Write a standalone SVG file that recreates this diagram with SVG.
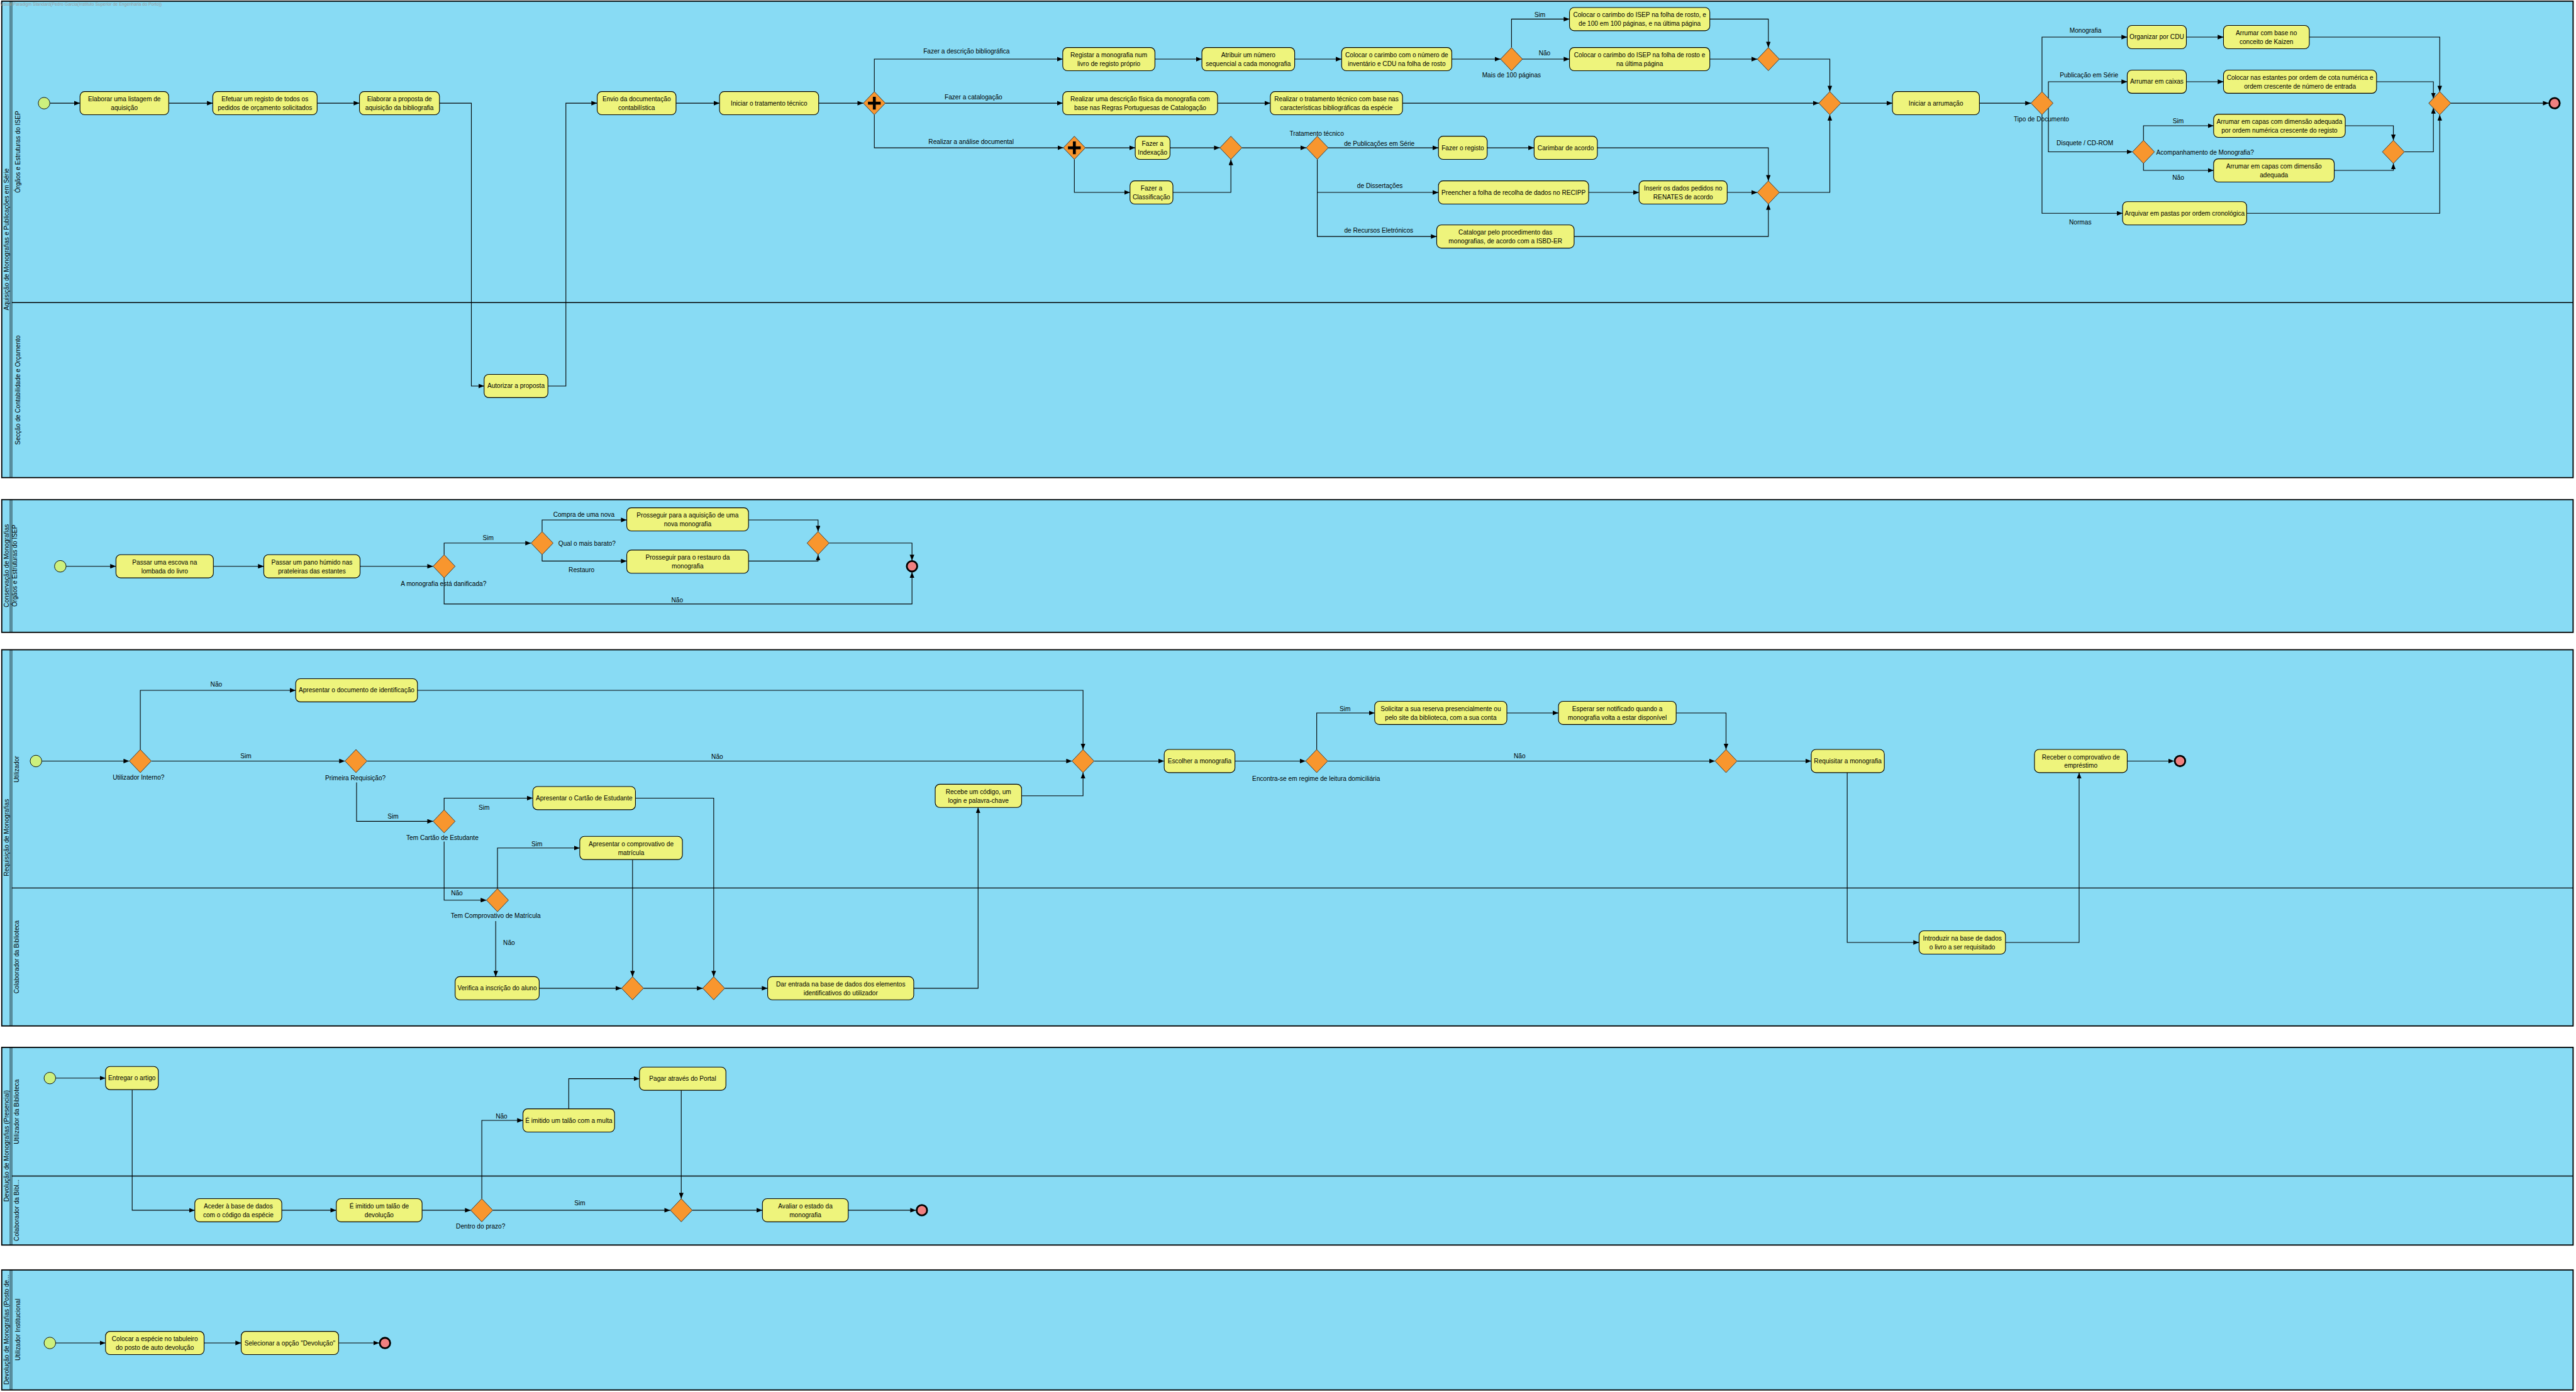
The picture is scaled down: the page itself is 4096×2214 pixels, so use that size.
<svg xmlns="http://www.w3.org/2000/svg" width="4096" height="2214" viewBox="0 0 4096 2214">
<style>
.pool{fill:#88DBF4;stroke:#000;stroke-width:2}
.hl{stroke:#000;stroke-width:1;fill:none}
.ld{stroke:#000;stroke-width:1.5;fill:none}
.task{fill:#EEF47C;stroke:#000;stroke-width:1.2}
.gw{fill:#F8962E;stroke:#333;stroke-width:1}
.plus{fill:#000}
.st{fill:#CDF07E;stroke:#000;stroke-width:1}
.en{fill:#F08080;stroke:#000;stroke-width:3}
.t{font-family:"Liberation Sans",Arial,sans-serif;font-size:11px;fill:#000;text-anchor:middle;dominant-baseline:central}
.ts{font-family:"Liberation Sans",Arial,sans-serif;font-size:11px;fill:#000;text-anchor:start;dominant-baseline:central}
.pl{font-family:"Liberation Sans",Arial,sans-serif;font-size:11px;fill:#000;text-anchor:middle;dominant-baseline:central}
.wm{font-family:"Liberation Sans",Arial,sans-serif;font-size:7.5px;fill:#9a9a9a}
.f{fill:none;stroke:#000;stroke-width:1.2;marker-end:url(#arr)}
</style>
<defs>
<marker id="arr" viewBox="0 0 10 8" refX="10" refY="4" markerWidth="10" markerHeight="8" markerUnits="userSpaceOnUse" orient="auto"><path d="M0,0 L10,4 L0,8 z" fill="#000"/></marker>
</defs>
<rect x="0" y="0" width="4096" height="2214" fill="#fff"/>
<g transform="scale(0.9219)">
<!-- pools -->
<g id="pools">
<g id="pool1">
<rect class="pool" x="3" y="2" width="4435" height="822"/>
<path class="hl" d="M17.5,2 V824 M20.5,2 V824"/>
<path class="ld" d="M20.5,522 H4438"/>
<text class="pl" transform="translate(11,413) rotate(-90)">Aquisição de Monografias e Publicações em Série</text>
<text class="pl" transform="translate(31,262) rotate(-90)">Órgãos e Estruturas do ISEP</text>
<text class="pl" transform="translate(31,673) rotate(-90)">Secção de Contabilidade e Orçamento</text>
</g>
<g id="pool2">
<rect class="pool" x="3" y="862" width="4435" height="229"/>
<path class="hl" d="M17.5,862 V1091 M20.5,862 V1091"/>
<text class="pl" transform="translate(11,976) rotate(-90)">Conservação de Monografias</text>
<text class="pl" transform="translate(25,976) rotate(-90)">Órgãos e Estruturas do ISEP</text>
</g>
<g id="pool3">
<rect class="pool" x="3" y="1121" width="4435" height="649"/>
<path class="hl" d="M17.5,1121 V1770 M20.5,1121 V1770"/>
<path class="ld" d="M20.5,1532 H4438"/>
<text class="pl" transform="translate(11,1445) rotate(-90)">Requisição de Monografias</text>
<text class="pl" transform="translate(29,1327) rotate(-90)">Utilizador</text>
<text class="pl" transform="translate(29,1651) rotate(-90)">Colaborador da Biblioteca</text>
</g>
<g id="pool4">
<rect class="pool" x="3" y="1807" width="4435" height="341"/>
<path class="hl" d="M17.5,1807 V2148 M20.5,1807 V2148"/>
<path class="ld" d="M20.5,2029 H4438"/>
<text class="pl" transform="translate(11,1977) rotate(-90)">Devolução de Monografias (Presencial)</text>
<text class="pl" transform="translate(29,1918) rotate(-90)">Utilizador da Biblioteca</text>
<text class="pl" transform="translate(29,2088) rotate(-90)">Colaborador da Bibl...</text>
</g>
<g id="pool5">
<rect class="pool" x="3" y="2191" width="4435" height="207"/>
<path class="hl" d="M17.5,2191 V2398 M20.5,2191 V2398"/>
<text class="pl" transform="translate(11,2294) rotate(-90)">Devolução de Monografias (Posto de...</text>
<text class="pl" transform="translate(31,2294) rotate(-90)">Utilizador Institucional</text>
</g>
</g>
<text class="wm" x="0" y="10">Visual Paradigm Standard(Pedro Garcia(Instituto Superior de Engenharia do Porto))</text>

<!-- connectors -->
<g id="connectors">
<!-- pool 1 -->
<path class="f" d="M86.5,178 H138"/>
<path class="f" d="M291,178 H367"/>
<path class="f" d="M547,178 H620"/>
<path class="f" d="M758,178 H813 V666 H835"/>
<path class="f" d="M945,666 H976 V178 H1030"/>
<path class="f" d="M1166,178 H1241"/>
<path class="f" d="M1412,178 H1489"/>
<path class="f" d="M1508,158 V102 H1833"/>
<path class="f" d="M1992,102 H2073"/>
<path class="f" d="M2233,102 H2314"/>
<path class="f" d="M2504,102 H2588"/>
<path class="f" d="M2607,82 V33 H2707"/>
<path class="f" d="M2626,102 H2707"/>
<path class="f" d="M2949,33 H3050 V82"/>
<path class="f" d="M2949,102 H3031"/>
<path class="f" d="M3069,102 H3156 V158"/>
<path class="f" d="M1527,178 H1833"/>
<path class="f" d="M2100,178 H2191"/>
<path class="f" d="M2419,178 H3137"/>
<path class="f" d="M1508,198 V255 H1834"/>
<path class="f" d="M1872,255 H1958"/>
<path class="f" d="M1853,275 V332 H1949"/>
<path class="f" d="M2018,255 H2104"/>
<path class="f" d="M2023,332 H2123 V275"/>
<path class="f" d="M2142,255 H2253"/>
<path class="f" d="M2291,255 H2481"/>
<path class="f" d="M2565,255 H2646"/>
<path class="f" d="M2755,255 H3050 V312"/>
<path class="f" d="M2272,275 V332 H2481"/>
<path class="f" d="M2740,332 H2827"/>
<path class="f" d="M2979,332 H3031"/>
<path class="f" d="M2272,332 V408 H2478"/>
<path class="f" d="M2715,408 H3050 V352"/>
<path class="f" d="M3069,332 H3156 V198"/>
<path class="f" d="M3175,178 H3264"/>
<path class="f" d="M3414,178 H3503"/>
<path class="f" d="M3522,158 V64 H3669"/>
<path class="f" d="M3771,64 H3835"/>
<path class="f" d="M3983,64 H4208 V158"/>
<path class="f" d="M3533,169.6 V141 H3669"/>
<path class="f" d="M3771,141 H3835"/>
<path class="f" d="M4099,141 H4197 V170"/>
<path class="f" d="M3533,186.4 V262 H3678"/>
<path class="f" d="M3697,242 V217 H3818"/>
<path class="f" d="M3697,282 V294 H3818"/>
<path class="f" d="M4045,217 H4128 V242"/>
<path class="f" d="M4026,294 H4128 V282"/>
<path class="f" d="M4147,262 H4197 V186"/>
<path class="f" d="M3522,198 V368 H3661"/>
<path class="f" d="M3875,368 H4208 V198"/>
<path class="f" d="M4227,178 H4396"/>
<!-- pool 2 -->
<path class="f" d="M114,977 H200"/>
<path class="f" d="M368,977 H455"/>
<path class="f" d="M621,977 H747"/>
<path class="f" d="M766,957 V937 H916"/>
<path class="f" d="M935,917 V897 H1081"/>
<path class="f" d="M935,957 V968 H1081"/>
<path class="f" d="M1291,897 H1411 V917"/>
<path class="f" d="M1291,968 H1411 V957"/>
<path class="f" d="M1430,937 H1573 V967"/>
<path class="f" d="M766,997 V1042 H1573 V987"/>
<!-- pool 3 -->
<path class="f" d="M72,1313 H223"/>
<path class="f" d="M242,1293 V1191 H510"/>
<path class="f" d="M720,1191 H1868 V1293"/>
<path class="f" d="M261,1313 H595"/>
<path class="f" d="M633,1313 H1849"/>
<path class="f" d="M615,1350 V1417 H747"/>
<path class="f" d="M766,1397 V1377 H919"/>
<path class="f" d="M1096,1377 H1231 V1685"/>
<path class="f" d="M766,1452 V1553 H839"/>
<path class="f" d="M858,1533 V1463 H1000"/>
<path class="f" d="M1091,1483 V1685"/>
<path class="f" d="M855,1589 V1685"/>
<path class="f" d="M930,1705 H1072"/>
<path class="f" d="M1110,1705 H1212"/>
<path class="f" d="M1250,1705 H1324"/>
<path class="f" d="M1576,1705 H1687 V1393"/>
<path class="f" d="M1762,1373 H1868 V1333"/>
<path class="f" d="M1887,1313 H2008"/>
<path class="f" d="M2130,1313 H2252"/>
<path class="f" d="M2271,1293 V1230 H2371"/>
<path class="f" d="M2599,1230 H2688"/>
<path class="f" d="M2891,1230 H2977 V1293"/>
<path class="f" d="M2290,1313 H2958"/>
<path class="f" d="M2996,1313 H3124"/>
<path class="f" d="M3186,1333 V1626 H3310"/>
<path class="f" d="M3459,1626 H3586 V1333"/>
<path class="f" d="M3669,1313 H3750"/>
<!-- pool 4 -->
<path class="f" d="M96,1860 H182"/>
<path class="f" d="M228,1880 V2088 H336"/>
<path class="f" d="M486,2088 H580"/>
<path class="f" d="M728,2088 H812"/>
<path class="f" d="M831,2068 V1933 H902"/>
<path class="f" d="M981,1913 V1861 H1103"/>
<path class="f" d="M1175,1881 V2068"/>
<path class="f" d="M850,2088 H1156"/>
<path class="f" d="M1194,2088 H1315"/>
<path class="f" d="M1463,2088 H1580"/>
<!-- pool 5 -->
<path class="f" d="M96,2317 H182"/>
<path class="f" d="M352,2317 H416"/>
<path class="f" d="M584,2317 H654"/>
</g>

<g id="edge-labels">
<text class="t" x="1667" y="88">Fazer a descrição bibliográfica</text>
<text class="t" x="1679" y="168">Fazer a catalogação</text>
<text class="t" x="1675" y="245">Realizar a análise documental</text>
<text class="t" x="2656" y="26">Sim</text>
<text class="t" x="2664" y="92">Não</text>
<text class="t" x="2379" y="248">de Publicações em Série</text>
<text class="t" x="2380" y="321">de Dissertações</text>
<text class="t" x="2378" y="398">de Recursos Eletrónicos</text>
<text class="t" x="3597" y="53">Monografia</text>
<text class="t" x="3603" y="130">Publicação em Série</text>
<text class="t" x="3596" y="247">Disquete / CD-ROM</text>
<text class="t" x="3757" y="209">Sim</text>
<text class="t" x="3757" y="306">Não</text>
<text class="t" x="3588" y="383">Normas</text>
<text class="t" x="842" y="928">Sim</text>
<text class="t" x="1007" y="888">Compra de uma nova</text>
<text class="t" x="1003" y="983">Restauro</text>
<text class="t" x="1168" y="1035">Não</text>
<text class="t" x="373" y="1181">Não</text>
<text class="t" x="424" y="1304">Sim</text>
<text class="t" x="1237" y="1305">Não</text>
<text class="t" x="678" y="1408">Sim</text>
<text class="t" x="835" y="1393">Sim</text>
<text class="t" x="788" y="1541">Não</text>
<text class="t" x="926" y="1456">Sim</text>
<text class="t" x="878" y="1627">Não</text>
<text class="t" x="2320" y="1223">Sim</text>
<text class="t" x="2621" y="1304">Não</text>
<text class="t" x="865" y="1926">Não</text>
<text class="t" x="1000" y="2076">Sim</text>
</g>

<!-- pool 1 nodes -->
<g id="start1"><circle class="st" cx="76" cy="178" r="10"/></g>
<g id="t_listagem"><rect class="task" x="138" y="158" width="153" height="40" rx="8"/><text class="t" x="214.5" y="170.5"><tspan x="214.5">Elaborar uma listagem de</tspan><tspan x="214.5" dy="15">aquisição</tspan></text></g>
<g id="t_registo_orc"><rect class="task" x="367" y="158" width="180" height="40" rx="8"/><text class="t" x="457" y="170.5"><tspan x="457">Efetuar um registo de todos os</tspan><tspan x="457" dy="15">pedidos de orçamento solicitados</tspan></text></g>
<g id="t_proposta"><rect class="task" x="620" y="158" width="138" height="40" rx="8"/><text class="t" x="689" y="170.5"><tspan x="689">Elaborar a proposta de</tspan><tspan x="689" dy="15">aquisição da bibliografia</tspan></text></g>
<g id="t_autorizar"><rect class="task" x="835" y="646" width="110" height="40" rx="8"/><text class="t" x="890" y="666">Autorizar a proposta</text></g>
<g id="t_envio"><rect class="task" x="1030" y="158" width="136" height="40" rx="8"/><text class="t" x="1098" y="170.5"><tspan x="1098">Envio da documentação</tspan><tspan x="1098" dy="15">contabilística</tspan></text></g>
<g id="t_iniciar_trat"><rect class="task" x="1241" y="158" width="171" height="40" rx="8"/><text class="t" x="1326.5" y="178">Iniciar o tratamento técnico</text></g>
<g id="pg1"><polygon class="gw" points="1489,178 1508,158 1527,178 1508,198"/><rect class="plus" x="1497" y="175.5" width="22" height="5"/><rect class="plus" x="1505.5" y="167" width="5" height="22"/></g>
<g id="t_registar_livro"><rect class="task" x="1833" y="82" width="159" height="40" rx="8"/><text class="t" x="1912.5" y="94.5"><tspan x="1912.5">Registar a monografia num</tspan><tspan x="1912.5" dy="15">livro de registo próprio</tspan></text></g>
<g id="t_atribuir"><rect class="task" x="2073" y="82" width="160" height="40" rx="8"/><text class="t" x="2153" y="94.5"><tspan x="2153">Atribuir um número</tspan><tspan x="2153" dy="15">sequencial a cada monografia</tspan></text></g>
<g id="t_carimbo_inv"><rect class="task" x="2314" y="82" width="190" height="40" rx="8"/><text class="t" x="2409" y="94.5"><tspan x="2409">Colocar o carimbo com o número de</tspan><tspan x="2409" dy="15">inventário e CDU na folha de rosto</tspan></text></g>
<g id="g_100"><polygon class="gw" points="2588,102 2607,82 2626,102 2607,122"/><text class="t" x="2607" y="130">Mais de 100 páginas</text></g>
<g id="t_carimbo_100"><rect class="task" x="2707" y="13" width="242" height="40" rx="8"/><text class="t" x="2828" y="25.5"><tspan x="2828">Colocar o carimbo do ISEP na folha de rosto, e</tspan><tspan x="2828" dy="15">de 100 em 100 páginas, e na última página</tspan></text></g>
<g id="t_carimbo_ult"><rect class="task" x="2707" y="82" width="242" height="40" rx="8"/><text class="t" x="2828" y="94.5"><tspan x="2828">Colocar o carimbo do ISEP na folha de rosto e</tspan><tspan x="2828" dy="15">na última página</tspan></text></g>
<g id="g_m1"><polygon class="gw" points="3031,102 3050,82 3069,102 3050,122"/></g>
<g id="t_desc_fisica"><rect class="task" x="1833" y="158" width="267" height="40" rx="8"/><text class="t" x="1966.5" y="170.5"><tspan x="1966.5">Realizar uma descrição física da monografia com</tspan><tspan x="1966.5" dy="15">base nas Regras Portuguesas de Catalogação</tspan></text></g>
<g id="t_trat_base"><rect class="task" x="2191" y="158" width="228" height="40" rx="8"/><text class="t" x="2305" y="170.5"><tspan x="2305">Realizar o tratamento técnico com base nas</tspan><tspan x="2305" dy="15">características bibliográficas da espécie</tspan></text></g>
<g id="pg2"><polygon class="gw" points="1834,255 1853,235 1872,255 1853,275"/><rect class="plus" x="1842" y="252.5" width="22" height="5"/><rect class="plus" x="1850.5" y="244" width="5" height="22"/></g>
<g id="t_indexacao"><rect class="task" x="1958" y="235" width="60" height="40" rx="8"/><text class="t" x="1988" y="247.5"><tspan x="1988">Fazer a</tspan><tspan x="1988" dy="15">Indexação</tspan></text></g>
<g id="t_classificacao"><rect class="task" x="1949" y="312" width="74" height="40" rx="8"/><text class="t" x="1986" y="324.5"><tspan x="1986">Fazer a</tspan><tspan x="1986" dy="15">Classificação</tspan></text></g>
<g id="g_m_ic"><polygon class="gw" points="2104,255 2123,235 2142,255 2123,275"/></g>
<g id="g_tt"><polygon class="gw" points="2253,255 2272,235 2291,255 2272,275"/><text class="t" x="2271" y="230">Tratamento técnico</text></g>
<g id="t_fazer_registo"><rect class="task" x="2481" y="235" width="84" height="40" rx="8"/><text class="t" x="2523" y="255">Fazer o registo</text></g>
<g id="t_carimbar"><rect class="task" x="2646" y="235" width="109" height="40" rx="8"/><text class="t" x="2700.5" y="255">Carimbar de acordo</text></g>
<g id="t_recipp"><rect class="task" x="2481" y="312" width="259" height="40" rx="8"/><text class="t" x="2610.5" y="332">Preencher a folha de recolha de dados no RECIPP</text></g>
<g id="t_renates"><rect class="task" x="2827" y="312" width="152" height="40" rx="8"/><text class="t" x="2903" y="324.5"><tspan x="2903">Inserir os dados pedidos no</tspan><tspan x="2903" dy="15">RENATES de acordo</tspan></text></g>
<g id="t_isbd"><rect class="task" x="2478" y="388" width="237" height="40" rx="8"/><text class="t" x="2596.5" y="400.5"><tspan x="2596.5">Catalogar pelo procedimento das</tspan><tspan x="2596.5" dy="15">monografias, de acordo com a ISBD-ER</tspan></text></g>
<g id="g_m3"><polygon class="gw" points="3031,332 3050,312 3069,332 3050,352"/></g>
<g id="g_m2"><polygon class="gw" points="3137,178 3156,158 3175,178 3156,198"/></g>
<g id="t_arrumacao"><rect class="task" x="3264" y="158" width="150" height="40" rx="8"/><text class="t" x="3339" y="178">Iniciar a arrumação</text></g>
<g id="g_tipo"><polygon class="gw" points="3503,178 3522,158 3541,178 3522,198"/><text class="t" x="3521" y="206">Tipo de Documento</text></g>
<g id="t_cdu"><rect class="task" x="3669" y="44" width="102" height="40" rx="8"/><text class="t" x="3720" y="64">Organizar por CDU</text></g>
<g id="t_kaizen"><rect class="task" x="3835" y="44" width="148" height="40" rx="8"/><text class="t" x="3909" y="56.5"><tspan x="3909">Arrumar com base no</tspan><tspan x="3909" dy="15">conceito de Kaizen</tspan></text></g>
<g id="t_caixas"><rect class="task" x="3669" y="121" width="102" height="40" rx="8"/><text class="t" x="3720" y="141">Arrumar em caixas</text></g>
<g id="t_estantes"><rect class="task" x="3835" y="121" width="264" height="40" rx="8"/><text class="t" x="3967" y="133.5"><tspan x="3967">Colocar nas estantes por ordem de cota numérica e</tspan><tspan x="3967" dy="15">ordem crescente de número de entrada</tspan></text></g>
<g id="g_acomp"><polygon class="gw" points="3678,262 3697,242 3716,262 3697,282"/><text class="ts" x="3719" y="263">Acompanhamento de Monografia?</text></g>
<g id="t_capas_reg"><rect class="task" x="3818" y="197" width="227" height="40" rx="8"/><text class="t" x="3931.5" y="209.5"><tspan x="3931.5">Arrumar em capas com dimensão adequada</tspan><tspan x="3931.5" dy="15">por ordem numérica crescente do registo</tspan></text></g>
<g id="t_capas"><rect class="task" x="3818" y="274" width="208" height="40" rx="8"/><text class="t" x="3922" y="286.5"><tspan x="3922">Arrumar em capas com dimensão</tspan><tspan x="3922" dy="15">adequada</tspan></text></g>
<g id="g_m_acomp"><polygon class="gw" points="4109,262 4128,242 4147,262 4128,282"/></g>
<g id="t_arquivar"><rect class="task" x="3661" y="348" width="214" height="40" rx="8"/><text class="t" x="3768" y="368">Arquivar em pastas por ordem cronológica</text></g>
<g id="g_final"><polygon class="gw" points="4189,178 4208,158 4227,178 4208,198"/></g>
<g id="end1"><circle class="en" cx="4406" cy="178" r="9"/></g>

<!-- pool 2 nodes -->
<g id="start2"><circle class="st" cx="104" cy="977" r="10"/></g>
<g id="t_escova"><rect class="task" x="200" y="957" width="168" height="40" rx="8"/><text class="t" x="284" y="969.5"><tspan x="284">Passar uma escova na</tspan><tspan x="284" dy="15">lombada do livro</tspan></text></g>
<g id="t_pano"><rect class="task" x="455" y="957" width="166" height="40" rx="8"/><text class="t" x="538" y="969.5"><tspan x="538">Passar um pano húmido nas</tspan><tspan x="538" dy="15">prateleiras das estantes</tspan></text></g>
<g id="g_danificada"><polygon class="gw" points="747,977 766,957 785,977 766,997"/><text class="t" x="765" y="1007">A monografia está danificada?</text></g>
<g id="g_barato"><polygon class="gw" points="916,937 935,917 954,937 935,957"/><text class="ts" x="963" y="938">Qual o mais barato?</text></g>
<g id="t_nova"><rect class="task" x="1081" y="876" width="210" height="40" rx="8"/><text class="t" x="1186" y="888.5"><tspan x="1186">Prosseguir para a aquisição de uma</tspan><tspan x="1186" dy="15">nova monografia</tspan></text></g>
<g id="t_restauro"><rect class="task" x="1081" y="949" width="210" height="40" rx="8"/><text class="t" x="1186" y="961.5"><tspan x="1186">Prosseguir para o restauro da</tspan><tspan x="1186" dy="15">monografia</tspan></text></g>
<g id="g_m_cons"><polygon class="gw" points="1392,937 1411,917 1430,937 1411,957"/></g>
<g id="end2"><circle class="en" cx="1573" cy="977" r="9"/></g>

<!-- pool 3 nodes -->
<g id="start3"><circle class="st" cx="62" cy="1313" r="10"/></g>
<g id="g_interno"><polygon class="gw" points="223,1313 242,1293 261,1313 242,1333"/><text class="t" x="239" y="1341">Utilizador Interno?</text></g>
<g id="t_doc_id"><rect class="task" x="510" y="1171" width="210" height="40" rx="8"/><text class="t" x="615" y="1191">Apresentar o documento de identificação</text></g>
<g id="g_primeira"><polygon class="gw" points="595,1313 614,1293 633,1313 614,1333"/><text class="t" x="613" y="1342">Primeira Requisição?</text></g>
<g id="g_cartao"><polygon class="gw" points="747,1417 766,1397 785,1417 766,1437"/><text class="t" x="763" y="1445">Tem Cartão de Estudante</text></g>
<g id="t_cartao"><rect class="task" x="919" y="1357" width="177" height="40" rx="8"/><text class="t" x="1007.5" y="1377">Apresentar o Cartão de Estudante</text></g>
<g id="g_comprov"><polygon class="gw" points="839,1553 858,1533 877,1553 858,1573"/><text class="t" x="855" y="1580">Tem Comprovativo de Matrícula</text></g>
<g id="t_comprov"><rect class="task" x="1000" y="1443" width="177" height="40" rx="8"/><text class="t" x="1088.5" y="1455.5"><tspan x="1088.5">Apresentar o comprovativo de</tspan><tspan x="1088.5" dy="15">matrícula</tspan></text></g>
<g id="t_verifica"><rect class="task" x="785" y="1685" width="145" height="40" rx="8"/><text class="t" x="857.5" y="1705">Verifica a inscrição do aluno</text></g>
<g id="g_a"><polygon class="gw" points="1072,1705 1091,1685 1110,1705 1091,1725"/></g>
<g id="g_b"><polygon class="gw" points="1212,1705 1231,1685 1250,1705 1231,1725"/></g>
<g id="t_dar_entrada"><rect class="task" x="1324" y="1685" width="252" height="40" rx="8"/><text class="t" x="1450" y="1697.5"><tspan x="1450">Dar entrada na base de dados dos elementos</tspan><tspan x="1450" dy="15">identificativos do utilizador</tspan></text></g>
<g id="t_recebe"><rect class="task" x="1613" y="1353" width="149" height="40" rx="8"/><text class="t" x="1687.5" y="1365.5"><tspan x="1687.5">Recebe um código, um</tspan><tspan x="1687.5" dy="15">login e palavra-chave</tspan></text></g>
<g id="g_m_req"><polygon class="gw" points="1849,1313 1868,1293 1887,1313 1868,1333"/></g>
<g id="t_escolher"><rect class="task" x="2008" y="1293" width="122" height="40" rx="8"/><text class="t" x="2069" y="1313">Escolher a monografia</text></g>
<g id="g_encontra"><polygon class="gw" points="2252,1313 2271,1293 2290,1313 2271,1333"/><text class="t" x="2270" y="1343">Encontra-se em regime de leitura domiciliária</text></g>
<g id="t_solicitar"><rect class="task" x="2371" y="1210" width="228" height="40" rx="8"/><text class="t" x="2485" y="1222.5"><tspan x="2485">Solicitar a sua reserva presencialmente ou</tspan><tspan x="2485" dy="15">pelo site da biblioteca, com a sua conta</tspan></text></g>
<g id="t_esperar"><rect class="task" x="2688" y="1210" width="203" height="40" rx="8"/><text class="t" x="2789.5" y="1222.5"><tspan x="2789.5">Esperar ser notificado quando a</tspan><tspan x="2789.5" dy="15">monografia volta a estar disponível</tspan></text></g>
<g id="g_m_enc"><polygon class="gw" points="2958,1313 2977,1293 2996,1313 2977,1333"/></g>
<g id="t_requisitar"><rect class="task" x="3124" y="1293" width="126" height="40" rx="8"/><text class="t" x="3187" y="1313">Requisitar a monografia</text></g>
<g id="t_introduzir"><rect class="task" x="3310" y="1606" width="149" height="40" rx="8"/><text class="t" x="3384.5" y="1618.5"><tspan x="3384.5">Introduzir na base de dados</tspan><tspan x="3384.5" dy="15">o livro a ser requisitado</tspan></text></g>
<g id="t_receber"><rect class="task" x="3509" y="1293" width="160" height="40" rx="8"/><text class="t" x="3589" y="1305.5"><tspan x="3589">Receber o comprovativo de</tspan><tspan x="3589" dy="15">empréstimo</tspan></text></g>
<g id="end3"><circle class="en" cx="3760" cy="1313" r="9"/></g>

<!-- pool 4 nodes -->
<g id="start4"><circle class="st" cx="86" cy="1860" r="10"/></g>
<g id="t_entregar"><rect class="task" x="182" y="1840" width="91" height="40" rx="8"/><text class="t" x="227.5" y="1860">Entregar o artigo</text></g>
<g id="t_aceder"><rect class="task" x="336" y="2068" width="150" height="40" rx="8"/><text class="t" x="411" y="2080.5"><tspan x="411">Aceder à base de dados</tspan><tspan x="411" dy="15">com o código da espécie</tspan></text></g>
<g id="t_talao_dev"><rect class="task" x="580" y="2068" width="148" height="40" rx="8"/><text class="t" x="654" y="2080.5"><tspan x="654">É imitido um talão de</tspan><tspan x="654" dy="15">devolução</tspan></text></g>
<g id="g_prazo"><polygon class="gw" points="812,2088 831,2068 850,2088 831,2108"/><text class="t" x="829" y="2116">Dentro do prazo?</text></g>
<g id="t_multa"><rect class="task" x="902" y="1913" width="158" height="40" rx="8"/><text class="t" x="981" y="1933">É imitido um talão com a multa</text></g>
<g id="t_pagar"><rect class="task" x="1103" y="1841" width="149" height="40" rx="8"/><text class="t" x="1177.5" y="1861">Pagar através do Portal</text></g>
<g id="g_m_dev"><polygon class="gw" points="1156,2088 1175,2068 1194,2088 1175,2108"/></g>
<g id="t_avaliar"><rect class="task" x="1315" y="2068" width="148" height="40" rx="8"/><text class="t" x="1389" y="2080.5"><tspan x="1389">Avaliar o estado da</tspan><tspan x="1389" dy="15">monografia</tspan></text></g>
<g id="end4"><circle class="en" cx="1590" cy="2088" r="9"/></g>

<!-- pool 5 nodes -->
<g id="start5"><circle class="st" cx="86" cy="2317" r="10"/></g>
<g id="t_tabuleiro"><rect class="task" x="182" y="2297" width="170" height="40" rx="8"/><text class="t" x="267" y="2309.5"><tspan x="267">Colocar a espécie no tabuleiro</tspan><tspan x="267" dy="15">do posto de auto devolução</tspan></text></g>
<g id="t_selecionar"><rect class="task" x="416" y="2297" width="168" height="40" rx="8"/><text class="t" x="500" y="2317">Selecionar a opção "Devolução"</text></g>
<g id="end5"><circle class="en" cx="664" cy="2317" r="9"/></g>
</g>
</svg>
